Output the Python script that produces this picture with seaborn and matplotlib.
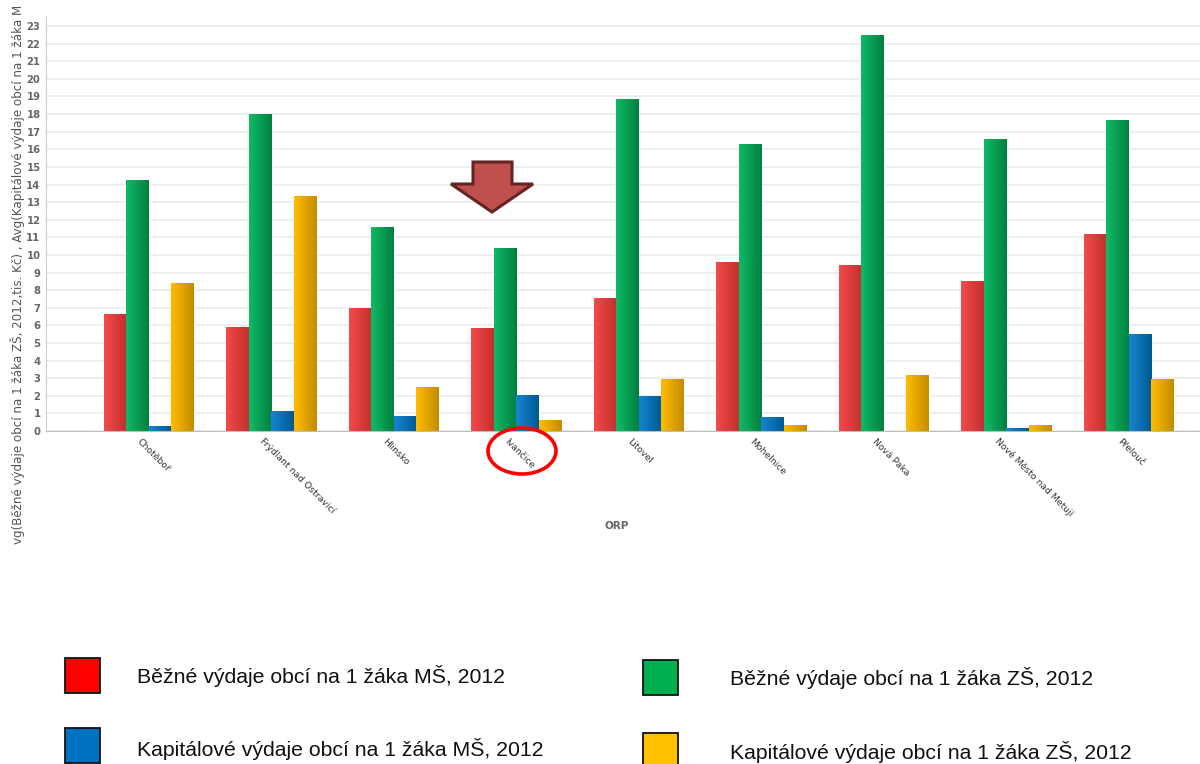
import numpy as np
import pandas as pd
import matplotlib.pyplot as plt
import matplotlib.transforms as mtransforms
from matplotlib.colors import LinearSegmentedColormap
from matplotlib.patches import Polygon, Ellipse, Rectangle
import seaborn as sns

orp = ['Chotěboř', 'Frýdlant nad Ostravicí', 'Hlinsko', 'Ivančice', 'Litovel',
       'Mohelnice', 'Nová Paka', 'Nové Město nad Metují', 'Přelouč']
series = ['Běžné výdaje obcí na 1 žáka MŠ, 2012',
          'Běžné výdaje obcí na 1 žáka ZŠ, 2012',
          'Kapitálové výdaje obcí na 1 žáka MŠ, 2012',
          'Kapitálové výdaje obcí na 1 žáka ZŠ, 2012']
bezne_ms = [6.65, 5.9, 7.0, 5.85, 7.55, 9.6, 9.45, 8.5, 11.2]
bezne_zs = [14.25, 18.0, 11.6, 10.4, 18.85, 16.3, 22.5, 16.6, 17.65]
kap_ms = [0.28, 1.15, 0.85, 2.05, 2.0, 0.8, 0.0, 0.17, 5.5]
kap_zs = [8.4, 13.35, 2.5, 0.62, 2.95, 0.34, 3.2, 0.34, 2.95]

bar_light = ['#f44a4a', '#0fba66', '#1585d2', '#ffbb00']
bar_dark = ['#c2302f', '#00803f', '#005a92', '#c38c00']
legend_cols = ['#ff0000', '#00b050', '#0070c0', '#ffc000']

df = pd.DataFrame({
    'ORP': orp * 4,
    'value': bezne_ms + bezne_zs + kap_ms + kap_zs,
    'series': sum([[s] * len(orp) for s in series], []),
})

sns.set_style('white')
fig = plt.figure(figsize=(12, 7.64), dpi=100)
W, H = 1200, 764
ax = fig.add_axes([46 / W, 1 - 431 / H, 1 - 46 / W, (431 - 16) / H])

sns.barplot(data=df, x='ORP', y='value', hue='series', hue_order=series,
            palette=bar_light, width=0.735, gap=0, saturation=1,
            legend=False, ax=ax, errorbar=None)

# gradient fill on every bar (light left, dark right)
grad = np.linspace(0, 1, 64).reshape(1, -1)
for i, s in enumerate(series):
    cmap = LinearSegmentedColormap.from_list('g%d' % i, [bar_light[i], bar_dark[i]])
    for p in ax.patches[i * len(orp):(i + 1) * len(orp)]:
        x0, y0 = p.get_x(), p.get_y()
        w, h = p.get_width(), p.get_height()
        if h <= 0:
            continue
        im = ax.imshow(grad, extent=[x0, x0 + w, y0, y0 + h], cmap=cmap,
                       aspect='auto', zorder=p.get_zorder() + 0.1)
        im.set_clip_path(p)

ax.set_xlim(-0.84, 8.58)
ax.set_ylim(0, 23.57)
ax.set_yticks(range(0, 24))
ax.yaxis.grid(True, color='#ebebeb', lw=1.2)
ax.set_axisbelow(True)
for side in ['top', 'right']:
    ax.spines[side].set_visible(False)
ax.spines['left'].set_color('#cfcfcf')
ax.spines['bottom'].set_color('#bdbdbd')
ax.tick_params(axis='y', length=3, color='#cfcfcf', labelsize=7.2, labelcolor='#666666', pad=1)
for t in ax.get_yticklabels():
    t.set_fontweight('bold')
ax.tick_params(axis='x', length=0, labelsize=6.7, labelcolor='#333333', pad=4)
ax.set_xticks(range(len(orp)))
ax.set_xticklabels(orp, rotation=-45, ha='left', va='top', rotation_mode='anchor')
off = mtransforms.ScaledTranslation(-7 / 100, 0, fig.dpi_scale_trans)
for t in ax.get_xticklabels():
    t.set_transform(t.get_transform() + off)
ax.set_xlabel('')
ax.set_ylabel('')

fig.text(18 / W, 1 - 274 / H,
         'vg(Běžné výdaje obcí na 1 žáka ZŠ, 2012,tis. Kč) , Avg(Kapitálové výdaje obcí na 1 žáka M',
         rotation=90, ha='center', va='center', fontsize=8.6, color='#555555')
fig.text(617 / W, 1 - 526 / H, 'ORP', ha='center', va='center', fontsize=7.5,
         color='#666666', fontweight='bold')

# arrow pointing at Ivančice
pts = [(473, 162), (512, 162), (512, 184), (533, 184), (492, 212), (451, 184), (473, 184)]
fig.patches.append(Polygon([(x / W, 1 - y / H) for x, y in pts], closed=True,
                           facecolor='#c0504d', edgecolor='#632523', lw=2.2,
                           transform=fig.transFigure, zorder=10))
fig.patches.append(Ellipse((522 / W, 1 - 451 / H), 68 / W, 46 / H, fill=False,
                           edgecolor='#ff0000', lw=2.6, transform=fig.transFigure, zorder=10))

# legend
leg_pos = [(65, 658, 137, 676), (643, 660, 730, 678), (65, 728, 137, 749), (643, 733, 730, 752)]
for i, s in enumerate(series):
    sx, sy, tx, ty = leg_pos[i]
    fig.patches.append(Rectangle((sx / W, 1 - (sy + 35) / H), 35 / W, 35 / H,
                                 facecolor=legend_cols[i], edgecolor='#111111', lw=1.3,
                                 transform=fig.transFigure))
    fig.text(tx / W, 1 - ty / H, s, ha='left', va='center', fontsize=15.3,
             family='Liberation Sans', color='#111111')

fig.savefig('out.png', dpi=100)
